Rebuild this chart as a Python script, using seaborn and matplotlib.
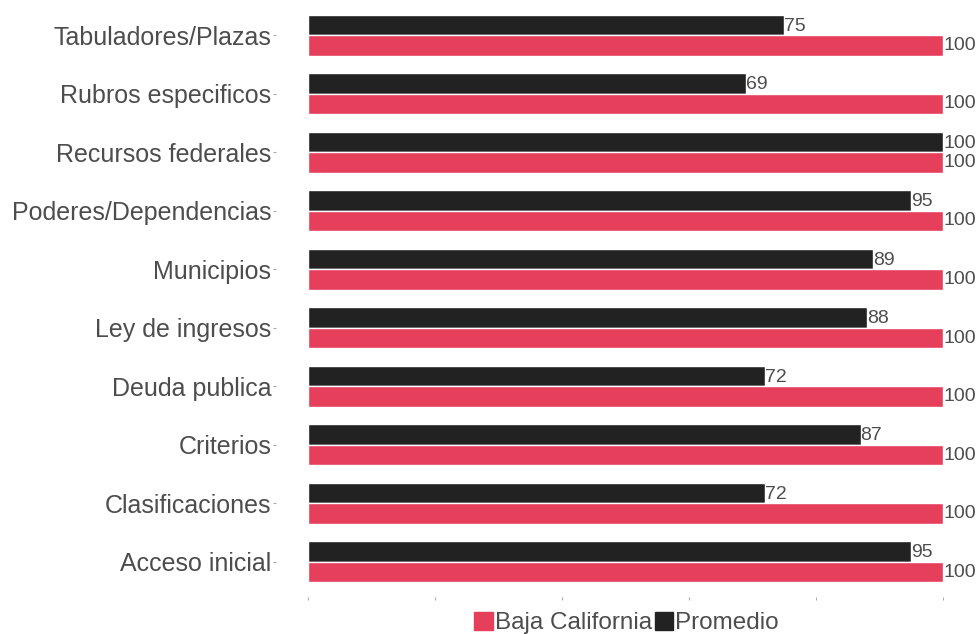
import matplotlib
matplotlib.use("Agg")
import matplotlib.pyplot as plt
from matplotlib.patches import Patch
import seaborn as sns
import pandas as pd

categories = ["Tabuladores/Plazas", "Rubros especificos", "Recursos federales",
              "Poderes/Dependencias", "Municipios", "Ley de ingresos",
              "Deuda publica", "Criterios", "Clasificaciones", "Acceso inicial"]
promedio = [75, 69, 100, 95, 89, 88, 72, 87, 72, 95]
baja_california = [100, 100, 100, 100, 100, 100, 100, 100, 100, 100]
series_names = ["Promedio", "Baja California"]

RED = "#E63F5B"
BLACK = "#222222"
GRAY = "#4D4D4D"

df = pd.DataFrame({
    "cat": categories * 2,
    "value": promedio + baja_california,
    "serie": [series_names[0]] * len(categories) + [series_names[1]] * len(categories),
})

sns.set_style("white")
plt.rcParams["font.family"] = ["Liberation Sans", "DejaVu Sans"]

fig = plt.figure(figsize=(9.79, 6.34), dpi=100)
ax = fig.add_axes([276 / 979, 1 - 597 / 634, (975 - 276) / 979, (597 - 0) / 634])

sns.barplot(data=df, y="cat", x="value", hue="serie", order=categories,
            hue_order=series_names, palette={"Promedio": BLACK, "Baja California": RED},
            width=0.7, orient="h", ax=ax, legend=False, saturation=1)

offsets = {0: 0.02, 1: 0.0}
for i, cont in enumerate(ax.containers):
    for p in cont.patches:
        ax.text(p.get_width(), p.get_y() + p.get_height() / 2 + offsets[i],
                f"{int(round(p.get_width()))}", ha="left", va="center",
                fontsize=14, color=GRAY)

ax.set_xlim(-5, 105)
ax.set_ylim(9.6, -0.6)
ax.set_xticks([0, 20, 40, 60, 80, 100])
ax.set_xticklabels([])
ax.tick_params(axis="x", length=2, width=0.8, color="#AAAAAA", bottom=True, direction="out", pad=0)
ax.tick_params(axis="y", length=2, width=0.8, color="#AAAAAA", left=True, labelsize=18,
               labelcolor=GRAY, pad=1.5)
ax.set_xlabel("")
ax.set_ylabel("")
for s in ax.spines.values():
    s.set_visible(False)
ax.grid(False)

handles = [Patch(color=RED, label="Baja California"), Patch(color=BLACK, label="Promedio")]
leg = fig.legend(handles=handles, loc="lower center", bbox_to_anchor=(0.64, -0.027), ncol=2,
                 frameon=False, fontsize=17.5, handlelength=0.75, handleheight=0.75,
                 handletextpad=0.1, columnspacing=0.1, borderpad=0.2)
for t in leg.get_texts():
    t.set_color(GRAY)

fig.savefig("out.png", dpi=100)
